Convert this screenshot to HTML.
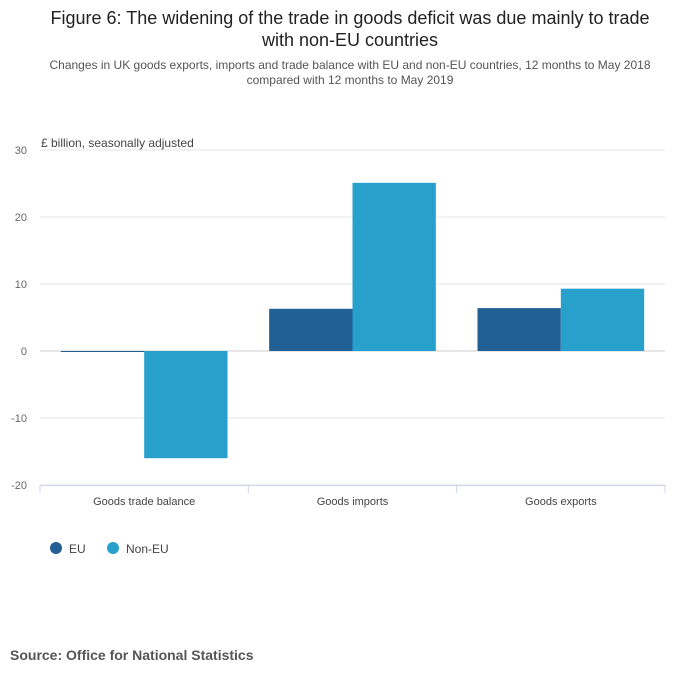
<!DOCTYPE html>
<html><head><meta charset="utf-8"><style>
body{margin:0;background:#fff;font-family:"Liberation Sans",sans-serif;}
#wrap{position:relative;width:700px;height:682px;overflow:hidden;}
</style></head><body>
<div id="wrap">
<svg id="chart" width="700" height="682" font-family="Liberation Sans, sans-serif">
<text x="350" y="24" text-anchor="middle" font-size="18" fill="#222">Figure 6: The widening of the trade in goods deficit was due mainly to trade</text>
<text x="350" y="46" text-anchor="middle" font-size="18" fill="#222">with non-EU countries</text>
<text x="350" y="69" text-anchor="middle" font-size="12" fill="#555">Changes in UK goods exports, imports and trade balance with EU and non-EU countries, 12 months to May 2018</text>
<text x="350" y="84" text-anchor="middle" font-size="12" fill="#555">compared with 12 months to May 2019</text>
<text x="41" y="147" font-size="12" fill="#444">£ billion, seasonally adjusted</text>
<g id="grid"></g><g id="bars"></g><g id="xaxis"></g>
<g>
<circle cx="56" cy="548" r="6" fill="#206095"/>
<text x="69" y="553" font-size="12" fill="#444">EU</text>
<circle cx="113" cy="548" r="6" fill="#27a0cc"/>
<text x="126" y="553" font-size="12" fill="#444">Non-EU</text>
</g>
<text x="10" y="660" font-size="14" font-weight="bold" fill="#555">Source: Office for National Statistics</text>
</svg></div>
<script>
const categories=["Goods trade balance","Goods imports","Goods exports"];
const euValues=[-0.1,6.3,6.4];
const nonEuValues=[-16.0,25.1,9.3];
const yTicks=[30,20,10,0,-10,-20];
const NS="http://www.w3.org/2000/svg";
const x0=40,x1=665,yMin=-20,yMax=30,yTop=150,yBot=485;
function y(v){return yBot-(v-yMin)/(yMax-yMin)*(yBot-yTop);}
const bw=(x1-x0)/categories.length;
function mk(t,a,p){const e=document.createElementNS(NS,t);for(const k in a)e.setAttribute(k,a[k]);p.appendChild(e);return e;}
const grid=document.getElementById('grid'),bars=document.getElementById('bars'),xa=document.getElementById('xaxis');
yTicks.forEach(t=>{
 const l=mk('line',{x1:x0,x2:x1,y1:y(t),y2:y(t),stroke:t===0?'#ccc':'#e6e6e6'},grid);
 
 
 const tx=mk('text',{x:27,y:y(t)+4,'text-anchor':'end','font-size':11,fill:'#666'},grid);
 tx.textContent=t;
 
 
});
const base=mk('line',{x1:x0,x2:x1,y1:yBot+0.5,y2:yBot+0.5,stroke:'#ccd6eb'},xa);


categories.forEach((c,i)=>{
 const cx=x0+bw*i, w=bw*0.4, start=cx+bw*0.1;
 [[euValues[i],'#206095','eu'],[nonEuValues[i],'#27a0cc','non-eu']].forEach((s,j)=>{
  const v=s[0];const top=Math.min(y(v),y(0));const h=Math.max(Math.abs(y(v)-y(0)),1);
  const r=mk('rect',{x:start+j*w,y:top,width:w,height:h,fill:s[1]},bars);
  
  
 });
 const tk=mk('line',{x1:cx+bw,x2:cx+bw,y1:yBot,y2:yBot+8,stroke:'#ccd6eb'},xa);
 
 
 const tx=mk('text',{x:cx+bw/2,y:yBot+20,'text-anchor':'middle','font-size':11,fill:'#444'},xa);
 tx.textContent=c;
 
 
});
const t0=mk('line',{x1:x0,x2:x0,y1:yBot,y2:yBot+8,stroke:'#ccd6eb'},xa);


</script>
</body></html>
